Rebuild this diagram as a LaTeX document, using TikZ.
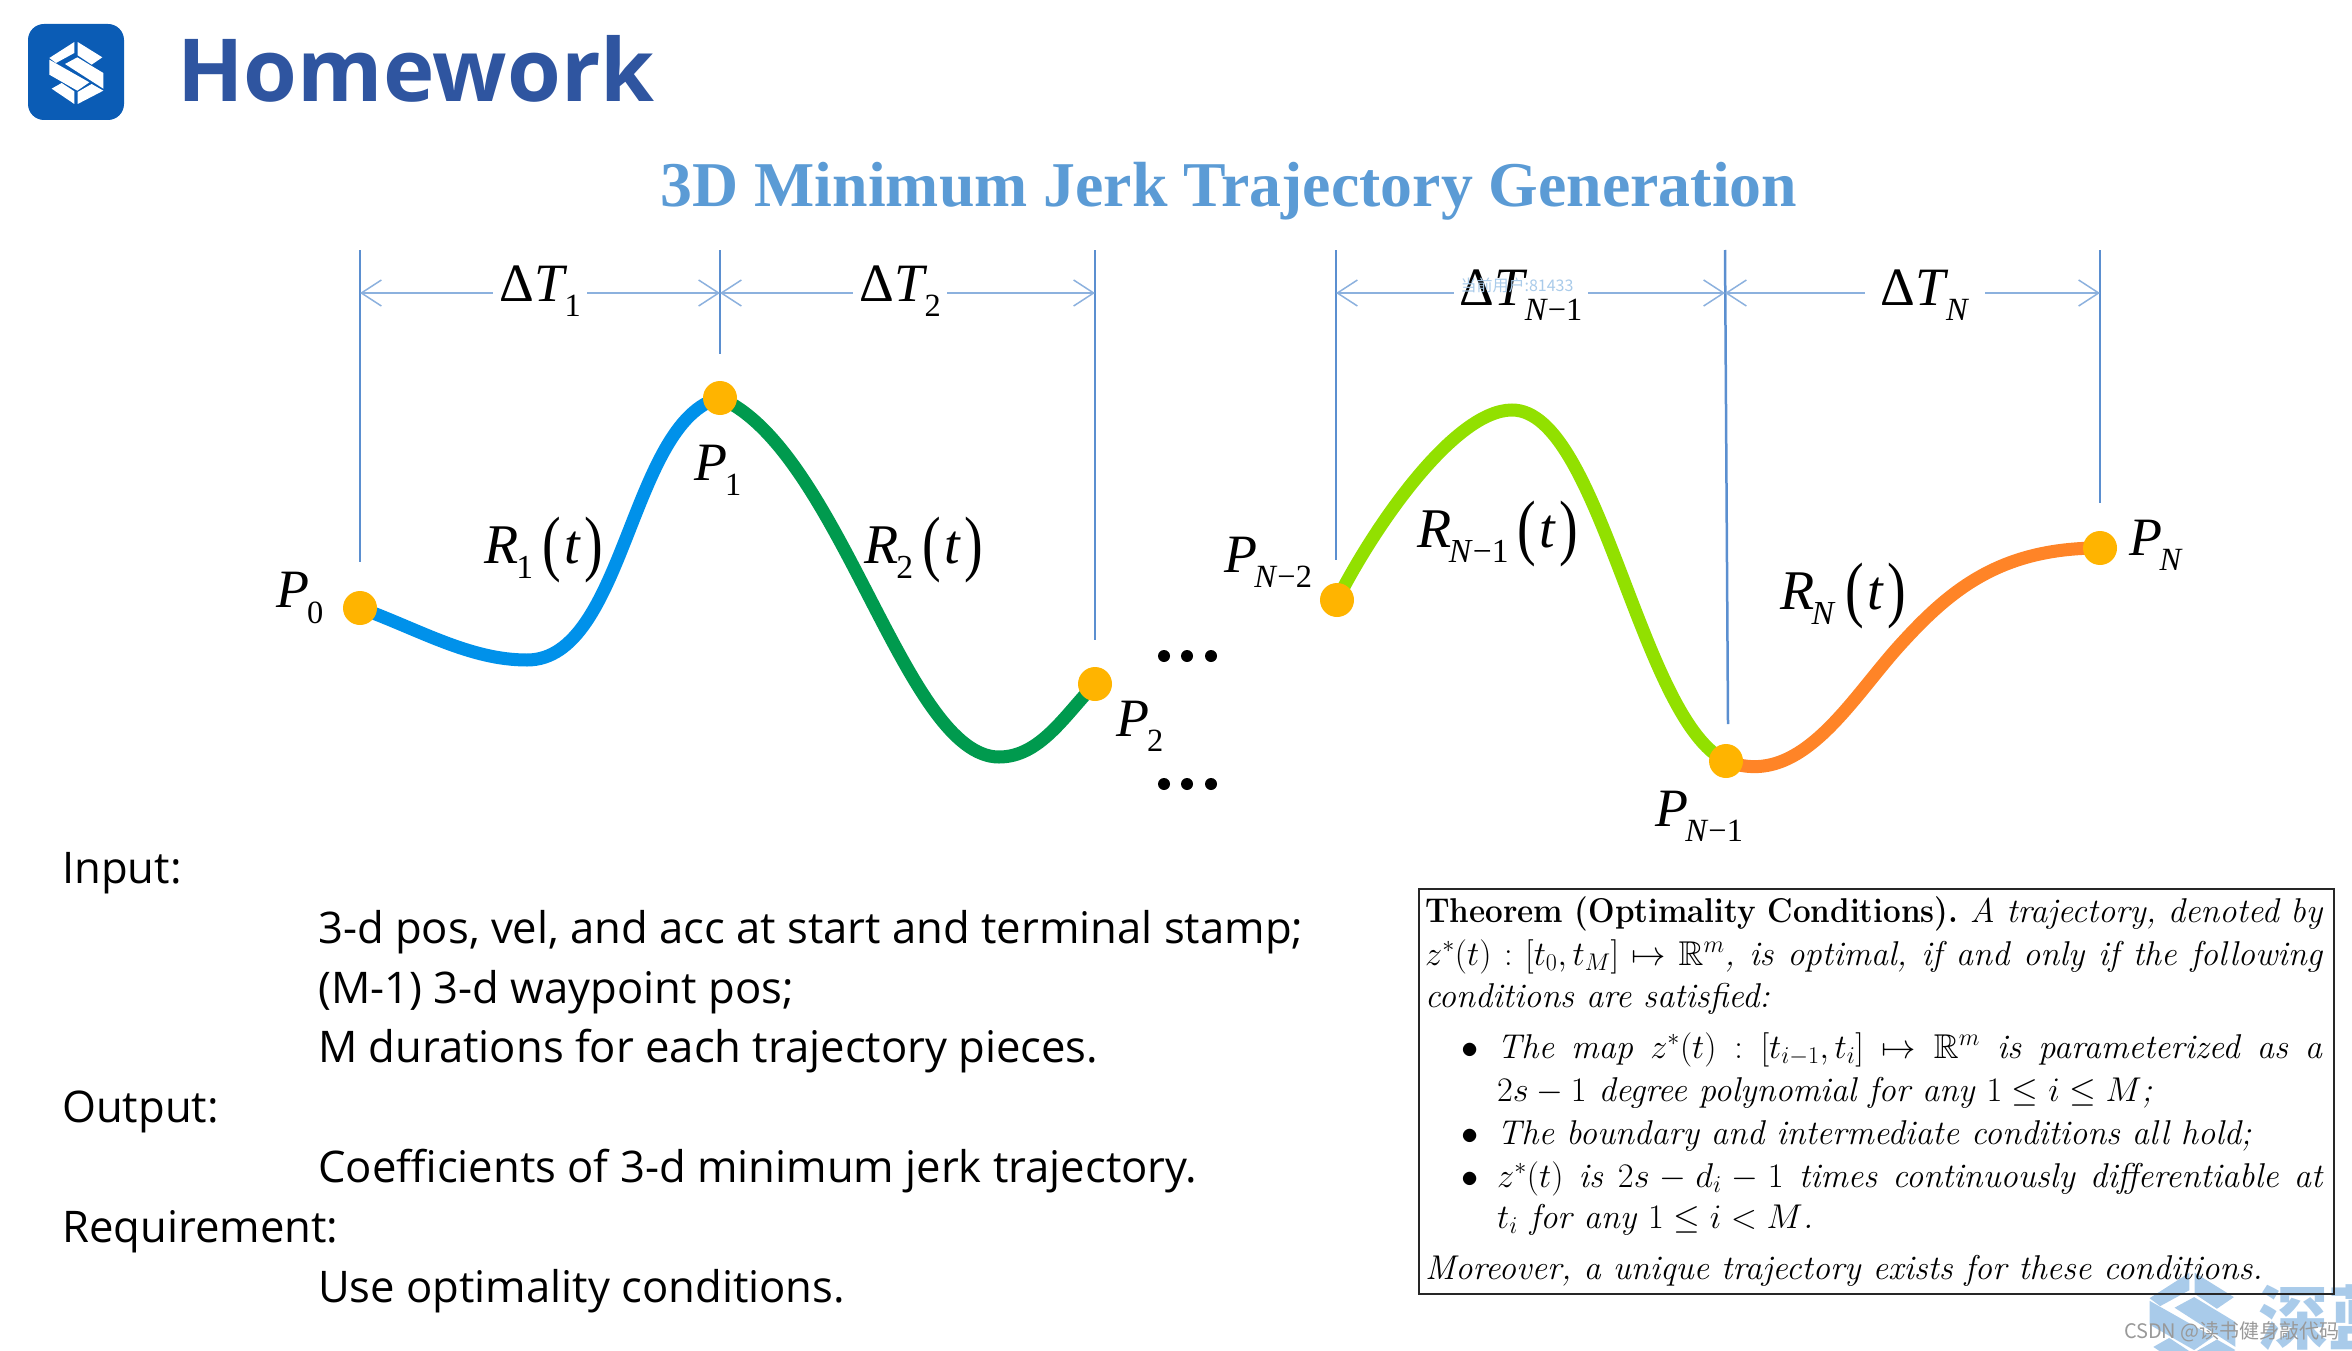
\documentclass[tikz,border=0pt]{standalone}
\usepackage{fix-cm}
\usepackage{amsmath}
\usepackage{amssymb}
\usepackage{graphicx}
\usepackage{fontspec}
\usetikzlibrary{arrows.meta}
\DeclareFontFamily{U}{msb}{}
\DeclareFontShape{U}{msb}{m}{n}{<-6>msbm5<6-8>msbm7<8->msbm10}{}
\newfontfamily\serifface{Liberation Serif}
\newfontfamily\bodyface{Open Sans}
\newfontfamily\cjkface{Noto Sans CJK SC}
\definecolor{logoblue}{HTML}{0B5CB5}
\definecolor{headblue}{HTML}{2F55A0}
\definecolor{titleblue}{HTML}{5B9BD5}
\definecolor{dimblue}{HTML}{5B8FD0}
\definecolor{markblue}{HTML}{A9CBEA}
\definecolor{dotorange}{HTML}{FFB400}
\definecolor{seggreen}{HTML}{009A4E}
\definecolor{seglime}{HTML}{92E000}
\definecolor{segblue}{HTML}{0091EA}
\definecolor{segorange}{HTML}{FF8427}
\newcommand{\sublabel}[2]{\textit{#1}\kern-.05em\raisebox{-.28em}{\scalebox{.6}{#2}}}
\newcommand{\argt}{\raisebox{-.08em}{\scalebox{1}[1.3]{(}}\kern.06em\textit{t}\kern.06em\raisebox{-.08em}{\scalebox{1}[1.3]{)}}}
\newcommand{\wideline}[1]{\makebox[897pt][s]{#1}}
\newcommand{\itemline}[1]{\makebox[825pt][s]{#1}}
\newcommand{\logoglyph}[1]{%
    \fill[#1] (-5,-93) -- (-80,-45) -- (-60,-30) -- (-5,-60) -- cycle;
    \fill[#1] (5,-93) -- (79,-47) -- (47,-25) -- (5,-53) -- cycle;
    \fill[#1] (-80,-40) -- (40,28) -- (4,53) -- (-80,5) -- cycle;
    \fill[#1] (-33,-27) -- (4,-47) -- (82,0) -- (82,47) -- cycle;
    \fill[#1] (82,53) -- (5,93) -- (5,57) -- (47,33) -- cycle;
    \fill[#1] (-5,93) -- (-73,47) -- (-43,30) -- (-5,55) -- cycle;
}
\begin{document}
\begin{tikzpicture}[
        x=1pt,y=-1pt,
        guide/.style={draw=dimblue,line width=2.5pt},
        span/.style={draw=dimblue!70,line width=1.5pt,{Straight Barb[length=20pt,width=26pt]}-{Straight Barb[length=20pt,width=26pt]}},
        spanlabel/.style={fill=white,inner sep=6pt,font=\fontsize{54}{54}\serifface},
        curvelabel/.style={inner sep=0pt,font=\fontsize{56}{56}\serifface},
        pointlabel/.style={inner sep=0pt,font=\fontsize{54}{54}\serifface},
        segment/.style={line width=13pt,line cap=round},
        waypoint/.style={circle,fill=dotorange,minimum size=34pt,inner sep=0pt},
        ellipsisdot/.style={circle,fill=black,minimum size=12pt,inner sep=0pt},
        inputline/.style={anchor=base west,inner sep=0pt,font=\fontsize{43.6}{43.6}\bodyface},
        thmline/.style={anchor=base west,inner sep=0pt,font=\fontsize{34.4}{43}\selectfont\itshape},
    ]
    \useasboundingbox (0,0) rectangle (2352,1351);
    % header
    \node[fill=logoblue,rounded corners=16pt,minimum width=96pt,minimum height=96pt,inner sep=0pt] (logo) at (76,72) {};
    \begin{scope}[shift={(76,73)},scale=1/3]
        \logoglyph{white}
    \end{scope}
    \node[anchor=base west,inner sep=0pt,text=headblue,font=\fontsize{87}{87}\bodyface\bfseries] (head) at (177,102) {Homework};
    \node[text=titleblue,inner sep=0pt,font=\fontsize{63.8}{63.8}\serifface\bfseries] (title) at (1229,191) {3D Minimum Jerk Trajectory Generation};

    % stamps
    \coordinate (p0) at (360,608);
    \coordinate (p1) at (720,398);
    \coordinate (p2) at (1095,684);
    \coordinate (p3) at (1337,600);
    \coordinate (p4) at (1726,761);
    \coordinate (p5) at (2100,548);
    \foreach \n/\x in {s0/360,s1/720,s2/1095,s3/1336,s4/1725,s5/2100} {
        \coordinate (\n) at (\x,293);
    }
    \draw[guide] (360,250) -- (360,562);
    \draw[guide] (720,250) -- (720,354);
    \draw[guide] (1095,250) -- (1095,640);
    \draw[guide] (1336,250) -- (1336,560);
    \draw[guide] (1725,250) -- (1728,724);
    \draw[guide] (2100,250) -- (2100,503);
    \draw[span] (s0) -- (s1);
    \draw[span] (s1) -- (s2);
    \draw[span] (s3) -- (s4);
    \draw[span] (s4) -- (s5);
    \node[spanlabel] (dt1) at (540,291) {Δ\sublabel{T}{1}};
    \node[spanlabel] (dt2) at (900,291) {Δ\sublabel{T}{2}};
    \node[spanlabel] (dt3) at (1521,295) {Δ\sublabel{T}{\textit{N}−1}};
    \node[spanlabel,inner xsep=16pt] (dt4) at (1925,295) {Δ\sublabel{T}{\textit{N}}};

    % trajectory pieces
    \draw[segment,segblue] (p0) .. controls (420,630) and (470,660) .. (527,660)
        .. controls (625,660) and (630,420) .. (p1);
    \draw[segment,seggreen] (p1) .. controls (840,450) and (905,757) .. (999,757)
        .. controls (1040,757) and (1065,715) .. (p2);
    \draw[segment,seglime] (p3) .. controls (1375,525) and (1455,410) .. (1512,410)
        .. controls (1600,410) and (1640,720) .. (p4);
    \draw[segment,segorange] (p4) .. controls (1800,790) and (1850,700) .. (1900,645)
        .. controls (1950,590) and (2000,548) .. (p5);
    \foreach \i in {0,...,5} {
        \node[waypoint] (dot\i) at (p\i) {};
    }
    \foreach \x/\i in {1164/1,1187/2,1211/3} {
        \node[ellipsisdot] (upper\i) at (\x,656) {};
        \node[ellipsisdot] (lower\i) at (\x,784) {};
    }

    % point and piece labels
    \node[pointlabel] (lp0) at (300,598) {\sublabel{P}{0}};
    \node[pointlabel] (lp1) at (718,470) {\sublabel{P}{1}};
    \node[pointlabel] (lp2) at (1140,726) {\sublabel{P}{2}};
    \node[pointlabel] (lp3) at (1268,562) {\sublabel{P}{\textit{N}−2}};
    \node[pointlabel] (lp4) at (1699,816) {\sublabel{P}{\textit{N}−1}};
    \node[pointlabel] (lp5) at (2156,545) {\sublabel{P}{\textit{N}}};
    \node[curvelabel] (lr1) at (544,550) {\sublabel{R}{1}\,\argt};
    \node[curvelabel] (lr2) at (924,550) {\sublabel{R}{2}\,\argt};
    \node[curvelabel] (lr3) at (1498,534) {\sublabel{R}{\textit{N}−1}\,\argt};
    \node[curvelabel] (lr4) at (1843,596) {\sublabel{R}{\textit{N}}\,\argt};

    % homework text
    \node[inputline] (in) at (62,883) {Input:};
    \node[inputline] (in1) at (318,943) {3-d pos, vel, and acc at start and terminal stamp;};
    \node[inputline] (in2) at (318,1003) {(M-1) 3-d waypoint pos;};
    \node[inputline] (in3) at (318,1062) {M durations for each trajectory pieces.};
    \node[inputline] (out) at (62,1122) {Output:};
    \node[inputline] (out1) at (318,1182) {Coefficients of 3-d minimum jerk trajectory.};
    \node[inputline] (req) at (62,1242) {Requirement:};
    \node[inputline] (req1) at (318,1302) {Use optimality conditions.};

    % watermarks under the box text
    \begin{scope}[shift={(2192,1322)},scale=.53]
        \logoglyph{markblue}
    \end{scope}
    \node[anchor=west,inner sep=0pt,text=markblue,font=\fontsize{70}{70}\cjkface\bfseries] (brand) at (2258,1318) {深蓝};
    \node[text=markblue,inner sep=0pt,font=\fontsize{16}{16}\cjkface] (mark) at (1517,285) {当前用户:81433};

    % theorem box
    \node[draw=black!85,line width=2pt,anchor=north west,minimum width=915pt,minimum height=405pt,inner sep=0pt] (box) at (1418,888) {};
    \node[thmline] (l1) at (1425,922) {\wideline{\resizebox{533pt}{\height}{\upshape\bfseries Theorem (Optimality Conditions).} A trajectory, denoted by}};
    \node[thmline] (l2) at (1425,965) {\wideline{$z^*(t):[t_0,t_M]\mapsto\mathbb{R}^m$, is optimal, if and only if the following}};
    \node[thmline] (l3) at (1425,1007) {conditions are satisfied:};
    \foreach \n/\y in {b1/1058,b2/1144,b3/1187} {
        \node[thmline] (\n) at (1461,\y) {$\bullet$};
    }
    \node[thmline] (l4) at (1497,1058) {\itemline{The map $z^*(t):[t_{i-1},t_i]\mapsto\mathbb{R}^m$ is parameterized as a}};
    \node[thmline] (l5) at (1497,1101) {$2s-1$ degree polynomial for any $1\leq i\leq M$;};
    \node[thmline] (l6) at (1497,1144) {The boundary and intermediate conditions all hold;};
    \node[thmline] (l7) at (1497,1187) {\itemline{$z^*(t)$ is $2s-d_i-1$ times continuously differentiable at}};
    \node[thmline] (l8) at (1497,1228) {$t_i$ for any $1\leq i<M$.};
    \node[thmline] (l9) at (1425,1279) {Moreover, a unique trajectory exists for these conditions.};

    \node[anchor=base east,inner sep=0pt,text=black!40,font=\fontsize{20}{20}\cjkface] (csdn) at (2340,1338) {CSDN @读书健身敲代码};
\end{tikzpicture}
\end{document}
